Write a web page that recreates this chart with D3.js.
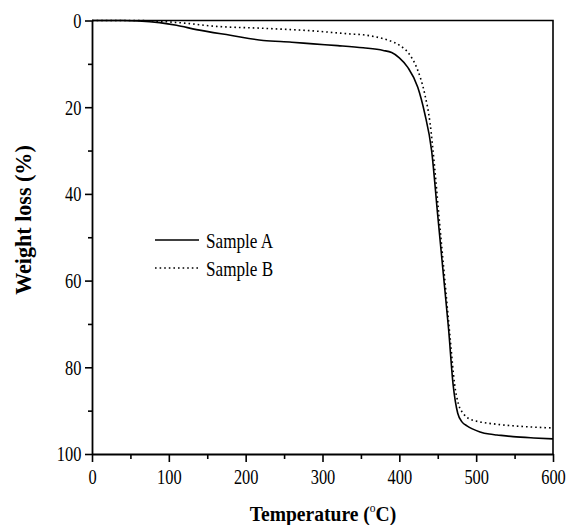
<!DOCTYPE html>
<html>
<head>
<meta charset="utf-8">
<script src="https://cdn.jsdelivr.net/npm/d3@7"></script>
<style>
  body { margin: 0; background: #fff; }
  text { font-family: "Liberation Serif", "Times New Roman", serif; fill: #000; }
</style>
</head>
<body>
<div id="chart"></div>
<script>
// data
let tempA = [0, 40, 60, 88, 110, 136, 180, 223, 260, 288, 320, 353, 379, 390, 400, 411, 424, 433, 442, 450, 457, 464, 470, 476, 482, 488, 495, 505, 517, 527, 548, 575, 600];
let lossA = [0, 0, 0.1, 0.5, 1.1, 2.1, 3.4, 4.6, 5.0, 5.4, 5.8, 6.3, 6.9, 7.4, 8.6, 10.8, 15.4, 21.4, 30, 45, 58, 71, 84, 90.6, 92.7, 93.5, 94.2, 94.9, 95.4, 95.6, 96.0, 96.3, 96.5];

let tempB = [0, 60, 88, 120, 158, 223, 288, 336, 353, 379, 388, 401, 414, 424, 433, 440, 446, 452, 459, 466, 472, 477, 483, 490, 505, 525, 548, 575, 600];
let lossB = [0, 0, 0.2, 0.6, 1.3, 1.8, 2.4, 3.1, 3.3, 4.2, 4.7, 5.8, 8, 11.5, 16.9, 23.7, 34, 46, 59.5, 73, 84, 88.5, 90.6, 91.8, 92.6, 93.1, 93.5, 93.8, 94];

let xTicks = [0, 100, 200, 300, 400, 500, 600];
let yTicks = [0, 20, 40, 60, 80, 100];

let width = 569, height = 525;
let margin = {top: 20.5, right: 16, bottom: 71, left: 92};

let svg = d3.select("#chart")
    .append("svg")
    .attr("width", width)
    .attr("height", height);

let x = d3.scaleLinear()
    .domain([0, 600])
    .range([margin.left, width - margin.right]);

let y = d3.scaleLinear()
    .domain([0, 100])
    .range([margin.top, height - margin.bottom]);

// frame (top + right, no ticks)
svg.append("path")
    .attr("d", `M${x(0)},${y(0)}H${x(600)}V${y(100)}`)
    .attr("fill", "none")
    .attr("stroke", "#000")
    .attr("stroke-width", 1.6);

// minor ticks
svg.append("g")
    .attr("transform", `translate(0,${y(100)})`)
    .call(d3.axisBottom(x).tickValues(d3.range(50, 600, 100)).tickSize(5).tickFormat(""))
    .call(g => g.select(".domain").remove())
    .call(g => g.selectAll("line").attr("stroke-width", 1.6));

svg.append("g")
    .attr("transform", `translate(${x(0)},0)`)
    .call(d3.axisLeft(y).tickValues(d3.range(10, 100, 20)).tickSize(4).tickFormat(""))
    .call(g => g.select(".domain").remove())
    .call(g => g.selectAll("line").attr("stroke-width", 1.6));

// major axes
let xAxis = svg.append("g")
    .attr("transform", `translate(0,${y(100)})`)
    .call(d3.axisBottom(x).tickValues(xTicks).tickSize(8).tickSizeOuter(0).tickPadding(8));

let yAxis = svg.append("g")
    .attr("transform", `translate(${x(0)},0)`)
    .call(d3.axisLeft(y).tickValues(yTicks).tickSize(7).tickSizeOuter(0).tickPadding(6));

// the original font is a narrow Times, so squeeze the labels a bit
[xAxis, yAxis].forEach(g => {
    g.select(".domain").attr("stroke-width", 1.8);
    g.selectAll("line").attr("stroke-width", 1.6);
    g.selectAll("text")
        .style("font-family", "'Liberation Serif', serif")
        .style("font-size", "20px")
        .attr("transform", "scale(0.82,1)");
});
yAxis.selectAll("text").attr("dy", "0.34em");

// curves
let line = d3.line()
    .x(d => x(d[0]))
    .y(d => y(d[1]))
    .curve(d3.curveMonotoneX);

svg.append("path")
    .datum(d3.zip(tempA, lossA))
    .attr("d", line)
    .attr("fill", "none")
    .attr("stroke", "#000")
    .attr("stroke-width", 1.6);

svg.append("path")
    .datum(d3.zip(tempB, lossB))
    .attr("d", line)
    .attr("fill", "none")
    .attr("stroke", "#000")
    .attr("stroke-width", 1.6)
    .attr("stroke-dasharray", "1.6,3");

// legend
let legend = [["Sample A", null, 240], ["Sample B", "1.6,3", 268]];
legend.forEach(l => {
    svg.append("line")
        .attr("x1", 155).attr("x2", 199)
        .attr("y1", l[2]).attr("y2", l[2])
        .attr("stroke", "#000")
        .attr("stroke-width", 1.6)
        .attr("stroke-dasharray", l[1]);
    svg.append("text")
        .attr("transform", `translate(206,${l[2] + 7.5}) scale(0.78,1)`)
        .style("font-size", "22px")
        .text(l[0]);
});

// axis titles
let xt = svg.append("text")
    .attr("transform", "translate(323,521) scale(0.89,1)")
    .attr("text-anchor", "middle")
    .style("font-size", "22px")
    .style("font-weight", "bold");
xt.append("tspan").text("Temperature (");
xt.append("tspan").attr("dy", -9).style("font-size", "13px").style("font-weight", "normal").text("o");
xt.append("tspan").attr("dy", 9).text("C)");

svg.append("text")
    .attr("transform", "translate(31,220) rotate(-90) scale(0.96,1)")
    .attr("text-anchor", "middle")
    .style("font-size", "23px")
    .style("font-weight", "bold")
    .text("Weight loss (%)");
</script>
</body>
</html>
